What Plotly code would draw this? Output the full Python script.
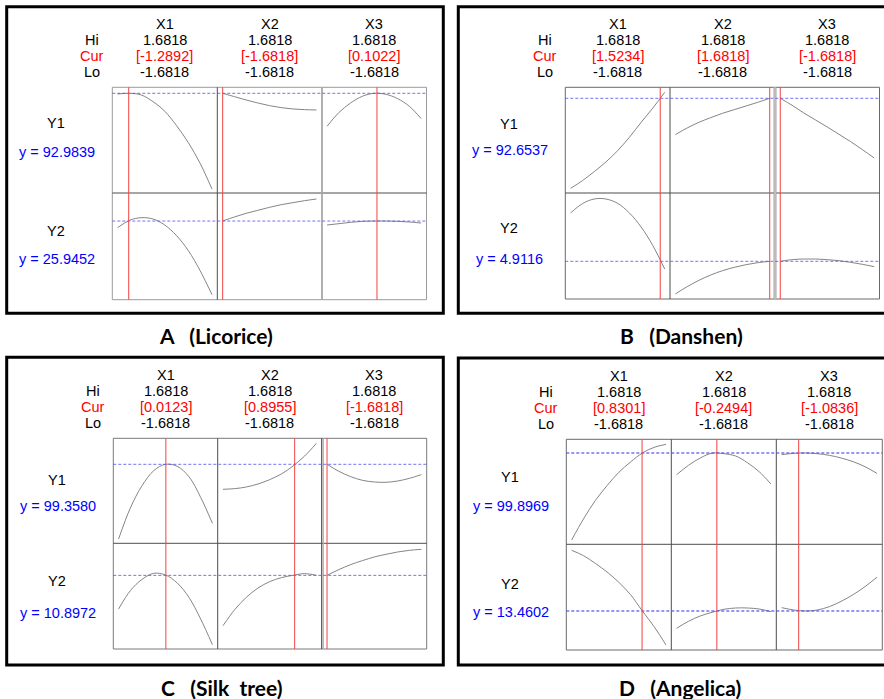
import plotly.graph_objects as go

FIG_W, FIG_H = 884, 699

factors = ["X1", "X2", "X3"]
responses = ["Y1", "Y2"]
hi_level = 1.6818
lo_level = -1.6818
x_pad = 0.19
x_levels = [-1.6818, -1.26, -0.84, -0.42, 0.0, 0.42, 0.84, 1.26, 1.6818]

# A (Licorice)
a_cur = [-1.2892, -1.6818, 0.1022]
a_opt = [92.9839, 25.9452]
a_y1_x1 = [92.78, 92.98, 92.48, 90.48, 87.58, 83.28, 78.18, 71.98, 64.28]
a_y1_x2 = [92.98, 91.98, 90.98, 90.08, 89.28, 88.68, 88.28, 88.08, 87.98]
a_y1_x3 = [83.08, 87.18, 90.08, 92.08, 92.98, 92.68, 91.38, 89.08, 85.38]
a_y2_x1 = [24.95, 26.05, 26.45, 26.25, 25.35, 23.75, 21.50, 18.50, 14.90]
a_y2_x2 = [25.95, 26.55, 27.10, 27.55, 28.00, 28.40, 28.70, 29.00, 29.25]
a_y2_x3 = [25.35, 25.55, 25.75, 25.90, 25.95, 25.95, 25.90, 25.80, 25.65]
a_y1_range = [63.09, 94.78]
a_y2_range = [14.15, 30.15]

# B (Danshen)
b_cur = [1.5234, 1.6818, -1.6818]
b_opt = [92.6537, 4.9116]
b_y1_x1 = [65.65, 67.95, 70.65, 73.55, 76.95, 80.95, 85.45, 89.75, 94.45]
b_y1_x2 = [81.75, 83.75, 85.45, 86.85, 88.15, 89.25, 90.35, 91.45, 92.65]
b_y1_x3 = [92.65, 90.55, 88.25, 86.15, 84.05, 81.85, 79.65, 77.25, 74.75]
b_y2_x1 = [7.81, 8.37, 8.65, 8.65, 8.39, 7.81, 6.97, 5.85, 4.45]
b_y2_x2 = [2.95, 3.39, 3.77, 4.09, 4.35, 4.55, 4.71, 4.83, 4.91]
b_y2_x3 = [4.91, 5.01, 5.05, 5.05, 5.01, 4.95, 4.85, 4.73, 4.59]
b_y1_range = [64.25, 95.95]
b_y2_range = [2.65, 9.01]

# C (Silk tree)
c_cur = [0.0123, 0.8955, -1.6818]
c_opt = [99.3580, 10.8972]
c_y1_x1 = [76.96, 86.26, 92.96, 97.46, 99.36, 98.76, 95.66, 89.46, 81.66]
c_y1_x2 = [91.86, 92.06, 92.56, 93.46, 94.76, 96.46, 98.86, 101.86, 105.66]
c_y1_x3 = [99.36, 97.26, 95.66, 94.56, 94.06, 93.96, 94.36, 95.16, 96.26]
c_y2_x1 = [8.88, 9.98, 10.66, 11.02, 10.92, 10.44, 9.58, 8.28, 6.74]
c_y2_x2 = [7.88, 8.84, 9.58, 10.14, 10.52, 10.76, 10.90, 11.00, 10.90]
c_y2_x3 = [10.90, 11.24, 11.54, 11.78, 12.00, 12.16, 12.30, 12.40, 12.46]
c_y1_range = [75.66, 107.16]
c_y2_range = [6.48, 12.82]

# D (Angelica)
d_cur = [0.8301, -0.2494, -1.0836]
d_opt = [99.8969, 13.4602]
d_y1_x1 = [73.79, 80.09, 85.59, 90.09, 94.09, 97.19, 99.89, 101.59, 102.49]
d_y1_x2 = [93.39, 96.19, 98.39, 99.84, 99.69, 98.99, 96.99, 94.29, 90.59]
d_y1_x3 = [99.39, 99.79, 99.89, 99.69, 99.19, 98.39, 97.29, 95.79, 93.79]
d_y2_x1 = [22.56, 21.76, 20.61, 19.31, 17.76, 15.91, 13.46, 11.11, 8.36]
d_y2_x2 = [10.86, 11.91, 12.71, 13.26, 13.71, 13.91, 13.91, 13.76, 13.36]
d_y2_x3 = [13.96, 13.61, 13.46, 13.61, 14.11, 14.91, 15.91, 17.11, 18.51]
d_y1_range = [72.50, 104.00]
d_y2_range = [7.61, 23.46]

GAP = "\u00a0\u00a0\u00a0"
WGAP = "\u00a0\u00a0"

# second column divider drawn as a list of (offset px, colour, width)
panels = [
    dict(title="A" + GAP + "(Licorice)", cur=a_cur, opt=a_opt,
         ranges=[a_y1_range, a_y2_range],
         curves=[[a_y1_x1, a_y1_x2, a_y1_x3], [a_y2_x1, a_y2_x2, a_y2_x3]],
         frame=(6.7, 6.7, 443.3, 313.3), gx=(112.3, 217.3, 321.7, 426.5),
         gy=(87.3, 193.0, 299.7), lab=(123.3, 152.3, 230.7, 258.7),
         tpos=(215.7, 336.0), dash_w=1.0, frame_col="#9a9a9a",
         div2=[(0.3, "#a8a8a8", 1.8)]),
    dict(title="B" + GAP + "(Danshen)", cur=b_cur, opt=b_opt,
         ranges=[b_y1_range, b_y2_range],
         curves=[[b_y1_x1, b_y1_x2, b_y1_x3], [b_y2_x1, b_y2_x2, b_y2_x3]],
         frame=(458.3, 6.7, 888.0, 313.3), gx=(565.3, 670.0, 775.0, 879.5),
         gy=(87.3, 193.0, 299.0), lab=(124.0, 149.7, 228.3, 259.3),
         tpos=(681.0, 336.0), dash_w=1.0, frame_col="#6a6a6a",
         div2=[(0.0, "#a0a0a0", 3.0), (0.0, "#d8d8d8", 1.0)]),
    dict(title="C" + GAP + "(Silk" + WGAP + "tree)", cur=c_cur, opt=c_opt,
         ranges=[c_y1_range, c_y2_range],
         curves=[[c_y1_x1, c_y1_x2, c_y1_x3], [c_y2_x1, c_y2_x2, c_y2_x3]],
         frame=(6.7, 357.3, 443.3, 665.0), gx=(113.3, 217.7, 321.7, 426.7),
         gy=(438.3, 543.3, 649.0), lab=(480.0, 506.0, 580.7, 613.3),
         tpos=(221.7, 687.3), dash_w=1.0, frame_col="#7a7a7a",
         div2=[(0.0, "#4d4d4d", 1.2), (1.6, "#b0b0b0", 1.2)]),
    dict(title="D" + GAP + "(Angelica)", cur=d_cur, opt=d_opt,
         ranges=[d_y1_range, d_y2_range],
         curves=[[d_y1_x1, d_y1_x2, d_y1_x3], [d_y2_x1, d_y2_x2, d_y2_x3]],
         frame=(458.3, 358.0, 888.0, 665.0), gx=(566.3, 671.3, 776.3, 882.3),
         gy=(439.3, 544.3, 650.0), lab=(476.7, 506.0, 584.0, 611.7),
         tpos=(680.0, 687.3), dash_w=1.6, frame_col="#6a6a6a",
         div2=[(0.0, "#4d4d4d", 1.0)]),
]

TXT_FONT = "Liberation Sans, Arial, sans-serif"
TXT_SIZE = 14.5
CURVE_COLOR = "#858585"
RED = "rgba(240,70,70,0.85)"
BLUE_DASH = "rgba(80,80,240,0.8)"
DIV_COLOR = "#4d4d4d"


def fx(px):
    return px / FIG_W


def fy(py):
    return 1 - py / FIG_H


fig = go.Figure()
layout_axes = {}
shapes = []
annotations = []


def txt(x, y, s, color="black", size=TXT_SIZE, font=TXT_FONT, bold=False):
    annotations.append(dict(
        x=fx(x), y=fy(y), xref="paper", yref="paper",
        text=("<b>%s</b>" % s) if bold else s,
        showarrow=False, xanchor="center", yanchor="middle",
        font=dict(family=font, size=size, color=color)))


n = 0
for p in panels:
    gx, gy = p["gx"], p["gy"]
    cell_axis = {}
    for r in range(2):
        for c in range(3):
            n += 1
            cell_axis[(r, c)] = n
            sfx = "" if n == 1 else str(n)
            layout_axes["xaxis" + sfx] = dict(
                domain=[fx(gx[c]), fx(gx[c + 1])], anchor="y" + sfx,
                range=[lo_level - x_pad, hi_level + x_pad],
                visible=False, fixedrange=True)
            layout_axes["yaxis" + sfx] = dict(
                domain=[fy(gy[r + 1]), fy(gy[r])], anchor="x" + sfx,
                range=p["ranges"][r], visible=False, fixedrange=True)
            fig.add_trace(go.Scatter(
                x=x_levels, y=p["curves"][r][c], mode="lines",
                line=dict(color=CURVE_COLOR, width=1, shape="spline", smoothing=1.0),
                xaxis="x" + sfx, yaxis="y" + sfx, showlegend=False, hoverinfo="skip"))

    # grid frame and dividers
    shapes.append(dict(type="rect", xref="paper", yref="paper", layer="below",
                       x0=fx(gx[0]), x1=fx(gx[3]), y0=fy(gy[2]), y1=fy(gy[0]),
                       line=dict(color=p["frame_col"], width=1)))
    shapes.append(dict(type="line", xref="paper", yref="paper",
                       x0=fx(gx[0]), x1=fx(gx[3]), y0=fy(gy[1]), y1=fy(gy[1]),
                       line=dict(color=DIV_COLOR, width=1)))
    shapes.append(dict(type="line", xref="paper", yref="paper",
                       x0=fx(gx[1]), x1=fx(gx[1]), y0=fy(gy[2]), y1=fy(gy[0]),
                       line=dict(color=DIV_COLOR, width=1)))
    for off, col, w in p["div2"]:
        shapes.append(dict(type="line", xref="paper", yref="paper",
                           x0=fx(gx[2] + off), x1=fx(gx[2] + off), y0=fy(gy[2]), y1=fy(gy[0]),
                           line=dict(color=col, width=w)))

    # dashed optimum lines across each response row
    for r in range(2):
        k = cell_axis[(r, 0)]
        shapes.append(dict(type="line", xref="paper", yref="y" + ("" if k == 1 else str(k)),
                           x0=fx(gx[0]), x1=fx(gx[3]), y0=p["opt"][r], y1=p["opt"][r],
                           line=dict(color=BLUE_DASH, width=p["dash_w"], dash="3px,2px")))

    # red current-setting lines through both rows
    for c in range(3):
        k = cell_axis[(0, c)]
        shapes.append(dict(type="line", xref="x" + ("" if k == 1 else str(k)), yref="paper",
                           x0=p["cur"][c], x1=p["cur"][c], y0=fy(gy[2]), y1=fy(gy[0]),
                           line=dict(color=RED, width=1.2)))

    # outer panel border
    fr = p["frame"]
    shapes.append(dict(type="rect", xref="paper", yref="paper",
                       x0=fx(fr[0]), x1=fx(fr[2]), y0=fy(fr[3]), y1=fy(fr[1]),
                       line=dict(color="black", width=3)))

    # column headers
    top = gy[0]
    for c in range(3):
        cx = (gx[c] + gx[c + 1]) / 2
        txt(cx, top - 63.5, factors[c])
        txt(cx, top - 47.0, "%.4f" % hi_level)
        txt(cx, top - 31.3, "[%.4f]" % p["cur"][c], color="#ff0000")
        txt(cx, top - 15.2, "%.4f" % lo_level)
    txt(gx[0] - 20.3, top - 47.0, "Hi")
    txt(gx[0] - 20.3, top - 31.3, "Cur", color="#ff0000")
    txt(gx[0] - 20.3, top - 15.2, "Lo")

    # response labels
    lab = p["lab"]
    for r in range(2):
        txt(gx[0] - 56.0, lab[2 * r], responses[r])
        txt(gx[0] - 55.5, lab[2 * r + 1], "y = %.4f" % p["opt"][r], color="#0000ff")

    # panel caption
    txt(p["tpos"][0], p["tpos"][1], p["title"], size=21,
        font="Lato, Open Sans, sans-serif", bold=True)

fig.update_layout(
    width=FIG_W, height=FIG_H, autosize=False,
    margin=dict(l=0, r=0, t=0, b=0, pad=0),
    paper_bgcolor="white", plot_bgcolor="white",
    shapes=shapes, annotations=annotations,
    **layout_axes)

fig.write_html("out.html")
